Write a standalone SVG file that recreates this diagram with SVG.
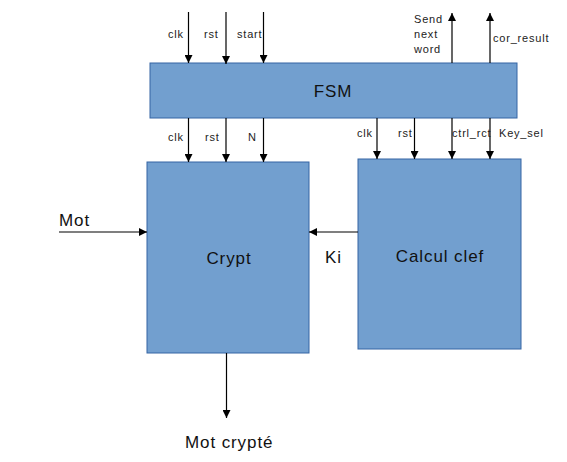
<svg xmlns="http://www.w3.org/2000/svg" width="567" height="462" viewBox="0 0 567 462">
<style>
.box{fill:#729fcf;stroke:#3465a4;stroke-width:1}
.w{stroke:#000;stroke-width:1.2;fill:none}
.s{font-family:"Liberation Sans",Arial,sans-serif;font-size:11px;letter-spacing:0.8px;fill:#222}
.m{font-family:"Liberation Sans",Arial,sans-serif;font-size:17px;letter-spacing:0.9px;fill:#111}
</style>
<defs>
<marker id="ah" viewBox="0 0 10 10" refX="10" refY="5" markerWidth="10" markerHeight="8" markerUnits="userSpaceOnUse" orient="auto">
<path d="M0,0 L10,5 L0,10 z" fill="#000"/>
</marker>
</defs>
<rect width="567" height="462" fill="#fff"/>
<g id="fsm"><rect class="box" x="150" y="63" width="367" height="55"/><text class="m" x="333" y="97" text-anchor="middle">FSM</text></g>
<g id="crypt"><rect class="box" x="147" y="162" width="162" height="191"/><text class="m" x="229" y="264" text-anchor="middle">Crypt</text></g>
<g id="calcul"><rect class="box" x="358" y="159" width="163" height="190"/><text class="m" x="440" y="262" text-anchor="middle">Calcul clef</text></g>
<g id="connectors">
<line class="w" x1="188.5" y1="12" x2="188.5" y2="63" marker-end="url(#ah)"/>
<line class="w" x1="226" y1="12" x2="226" y2="64" marker-end="url(#ah)"/>
<line class="w" x1="263.5" y1="12" x2="263.5" y2="63" marker-end="url(#ah)"/>
<line class="w" x1="452" y1="63" x2="452" y2="13" marker-end="url(#ah)"/>
<line class="w" x1="490" y1="63" x2="490" y2="13" marker-end="url(#ah)"/>
<line class="w" x1="188.5" y1="118" x2="188.5" y2="162" marker-end="url(#ah)"/>
<line class="w" x1="226" y1="118" x2="226" y2="162" marker-end="url(#ah)"/>
<line class="w" x1="263.5" y1="118" x2="263.5" y2="162" marker-end="url(#ah)"/>
<line class="w" x1="377" y1="118" x2="377" y2="159" marker-end="url(#ah)"/>
<line class="w" x1="414.5" y1="118" x2="414.5" y2="159" marker-end="url(#ah)"/>
<line class="w" x1="452" y1="118" x2="452" y2="159" marker-end="url(#ah)"/>
<line class="w" x1="490" y1="118" x2="490" y2="159" marker-end="url(#ah)"/>
<line class="w" x1="59" y1="232" x2="147" y2="232" marker-end="url(#ah)"/>
<line class="w" x1="358" y1="232" x2="309" y2="232" marker-end="url(#ah)"/>
<line class="w" x1="226.5" y1="353" x2="226.5" y2="418" marker-end="url(#ah)"/>
</g>
<g id="labels">
<text class="s" x="168" y="38">clk</text>
<text class="s" x="204" y="38">rst</text>
<text class="s" x="237" y="38">start</text>
<text class="s" x="414" y="23">Send</text>
<text class="s" x="414" y="38">next</text>
<text class="s" x="414" y="53">word</text>
<text class="s" x="493" y="42">cor_result</text>
<text class="s" x="168" y="141">clk</text>
<text class="s" x="205" y="141">rst</text>
<text class="s" x="248" y="141">N</text>
<text class="s" x="357" y="137">clk</text>
<text class="s" x="398" y="137">rst</text>
<text class="s" x="452" y="137">ctrl_rct</text>
<text class="s" x="499" y="137">Key_sel</text>
<text class="m" x="59" y="226">Mot</text>
<text class="m" x="325" y="263">Ki</text>
<text class="m" x="185" y="448">Mot crypté</text>
</g>
</svg>
